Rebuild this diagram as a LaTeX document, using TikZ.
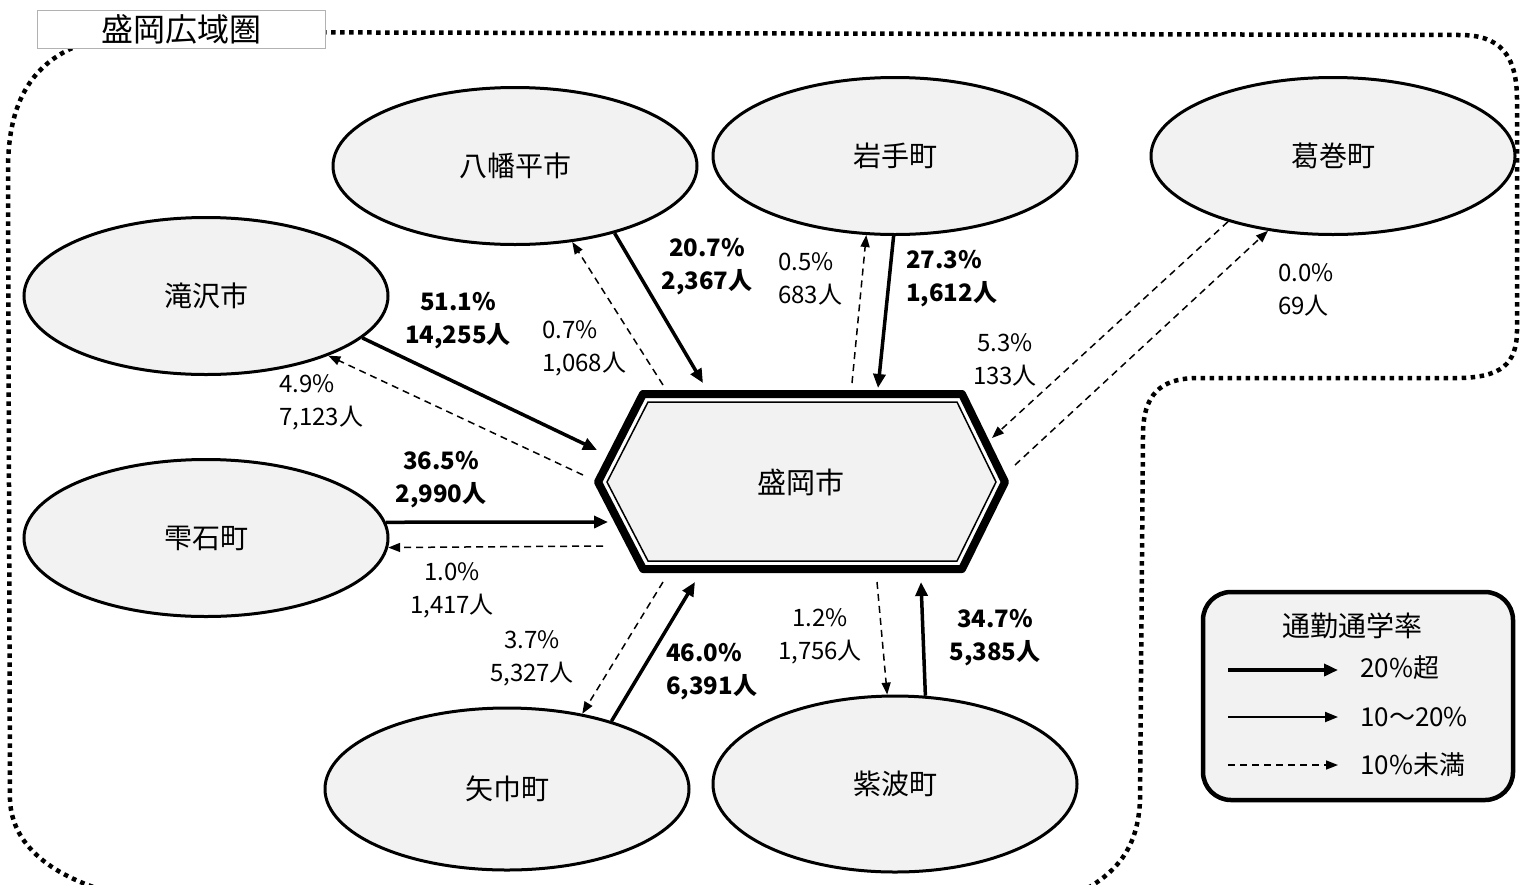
\documentclass[tikz,border=0pt]{standalone}
\usepackage{fontspec}
\setmainfont{Noto Sans CJK JP}
\usetikzlibrary{calc,shapes.geometric,arrows.meta}
\definecolor{townfill}{HTML}{F2F2F2}
\tikzset{
  town/.style={ellipse,draw,line width=3pt,fill=townfill,minimum width=364pt,minimum height=157pt,inner sep=0pt,font=\fontsize{28}{32}\selectfont},
  inflow/.style={line width=3.5pt,-{Triangle[length=14pt,width=12pt]}},
  midflow/.style={line width=2pt,-{Triangle[length=13pt,width=10pt]}},
  outflow/.style={line width=1.5pt,dash pattern=on 7pt off 5pt,-{Triangle[length=12pt,width=9pt]}},
  rate/.style={font=\fontsize{24}{33}\selectfont,inner sep=0pt},
  bigrate/.style={font=\fontsize{24}{33}\selectfont\bfseries,inner sep=0pt},
  keytext/.style={font=\fontsize{26}{30}\selectfont,inner sep=0pt,anchor=west},
  region/.style={line width=4.5pt,dash pattern=on 4.5pt off 4.5pt},
}
\begin{document}
\begin{tikzpicture}[x=1pt,y=-1pt]
  \useasboundingbox (0,0) rectangle (1525,884);
  \clip (0,0) rectangle (1525,884);
  % wide-area boundary
  \draw[region] (160,32) -- (1460,35) .. controls (1500,35) and (1517,55) .. (1517,100) -- (1517,330)
    .. controls (1517,365) and (1500,377) .. (1460,378) -- (1195,378)
    .. controls (1160,379) and (1143,395) .. (1143,435) -- (1140,800)
    .. controls (1138,850) and (1115,875) .. (1075,895);
  \draw[region] (160,32) .. controls (40,33) and (8,90) .. (8,170) -- (10,800)
    .. controls (12,850) and (60,880) .. (120,895);
  \node[draw=gray!60,line width=1pt,fill=white,minimum width=288pt,minimum height=38pt,inner sep=0pt,
    font=\fontsize{32}{36}\selectfont] (area) at (181,29) {盛岡広域圏};
  % towns
  \node[town] (takizawa) at (206,296) {滝沢市};
  \node[town] (shizukuishi) at (206,538) {雫石町};
  \node[town] (hachimantai) at (515,166) {八幡平市};
  \node[town] (iwate) at (895,156) {岩手町};
  \node[town] (kuzumaki) at (1333,156) {葛巻町};
  \node[town,minimum height=162pt] (yahaba) at (507,789) {矢巾町};
  \node[town,minimum height=176pt] (shiwa) at (895,784) {紫波町};
  % centre city
  \draw[line width=8pt,line join=round,fill=white] (598,482) -- (643,394) -- (962,394) -- (1005,482) -- (962,569) -- (643,569) -- cycle;
  \draw[line width=1.5pt,fill=townfill] (607,482) -- (648,402) -- (957,402) -- (996,482) -- (957,561) -- (648,561) -- cycle;
  \node[font=\fontsize{29}{32}\selectfont] (morioka) at (801,482) {盛岡市};
  % flows
  \draw[inflow] (takizawa.-15) -- ($(morioka)+(-204,-32)$);
  \draw[outflow] ($(morioka)+(-218,-7)$) -- (takizawa.-26);
  \draw[inflow] (shizukuishi.5) -- ($(morioka)+(-193,40)$);
  \draw[outflow] ($(morioka)+(-198,64)$) -- (shizukuishi.-3);
  \draw[inflow] (hachimantai.-34) -- ($(morioka)+(-98,-99)$);
  \draw[outflow] ($(morioka)+(-138,-97)$) -- (hachimantai.-53);
  \draw[inflow] (iwate.-91) -- ($(morioka)+(77,-94)$);
  \draw[outflow] ($(morioka)+(51,-99)$) -- (iwate.-110);
  \draw[outflow] (kuzumaki.-148) -- ($(morioka)+(191,-44)$);
  \draw[outflow] ($(morioka)+(214,-17)$) -- (kuzumaki.-131);
  \draw[inflow] (yahaba.33) -- ($(morioka)+(-106,100)$);
  \draw[outflow] ($(morioka)+(-138,100)$) -- (yahaba.45);
  \draw[inflow] (shiwa.71) -- ($(morioka)+(120,100)$);
  \draw[outflow] ($(morioka)+(76,100)$) -- (shiwa.95);
  % rates
  \node[bigrate,align=center] (taki-in) at (458,321) {51.1\%\\14,255人};
  \node[rate,align=left,anchor=west] (taki-out) at (279,402) {4.9\%\\7,123人};
  \node[rate,align=left,anchor=west] (hachi-out) at (542,348) {0.7\%\\1,068人};
  \node[bigrate,align=center] (hachi-in) at (707,267) {20.7\%\\2,367人};
  \node[rate,align=left,anchor=west] (iwate-out) at (778,279) {0.5\%\\683人};
  \node[bigrate,align=left,anchor=west] (iwate-in) at (906,279) {27.3\%\\1,612人};
  \node[rate,align=center] (kuzu-in) at (1005,360) {5.3\%\\133人};
  \node[rate,align=left,anchor=west] (kuzu-out) at (1278,290) {0.0\%\\69人};
  \node[bigrate,align=center] (shizu-in) at (441,480) {36.5\%\\2,990人};
  \node[rate,align=center] (shizu-out) at (452,590) {1.0\%\\1,417人};
  \node[rate,align=center] (yaha-out) at (532,658) {3.7\%\\5,327人};
  \node[bigrate,align=left,anchor=west] (yaha-in) at (666,672) {46.0\%\\6,391人};
  \node[rate,align=center] (shiwa-out) at (820,636) {1.2\%\\1,756人};
  \node[bigrate,align=center] (shiwa-in) at (995,638) {34.7\%\\5,385人};
  % legend
  \draw[line width=4.5pt,rounded corners=28pt,fill=townfill] (1203,592) rectangle (1513,800);
  \node[font=\fontsize{28}{32}\selectfont] (lgtitle) at (1352,626) {通勤通学率};
  \node[keytext] (lgA) at (1360,668) {20\%超};
  \node[keytext] (lgB) at (1360,717) {10〜20\%};
  \node[keytext] (lgC) at (1360,765) {10\%未満};
  \coordinate (kA) at (1228,670); \coordinate (kB) at (1228,717); \coordinate (kC) at (1228,765);
  \draw[inflow] (kA) -- ++(110,0);
  \draw[midflow] (kB) -- ++(110,0);
  \draw[outflow] (kC) -- ++(110,0);
\end{tikzpicture}
\end{document}
